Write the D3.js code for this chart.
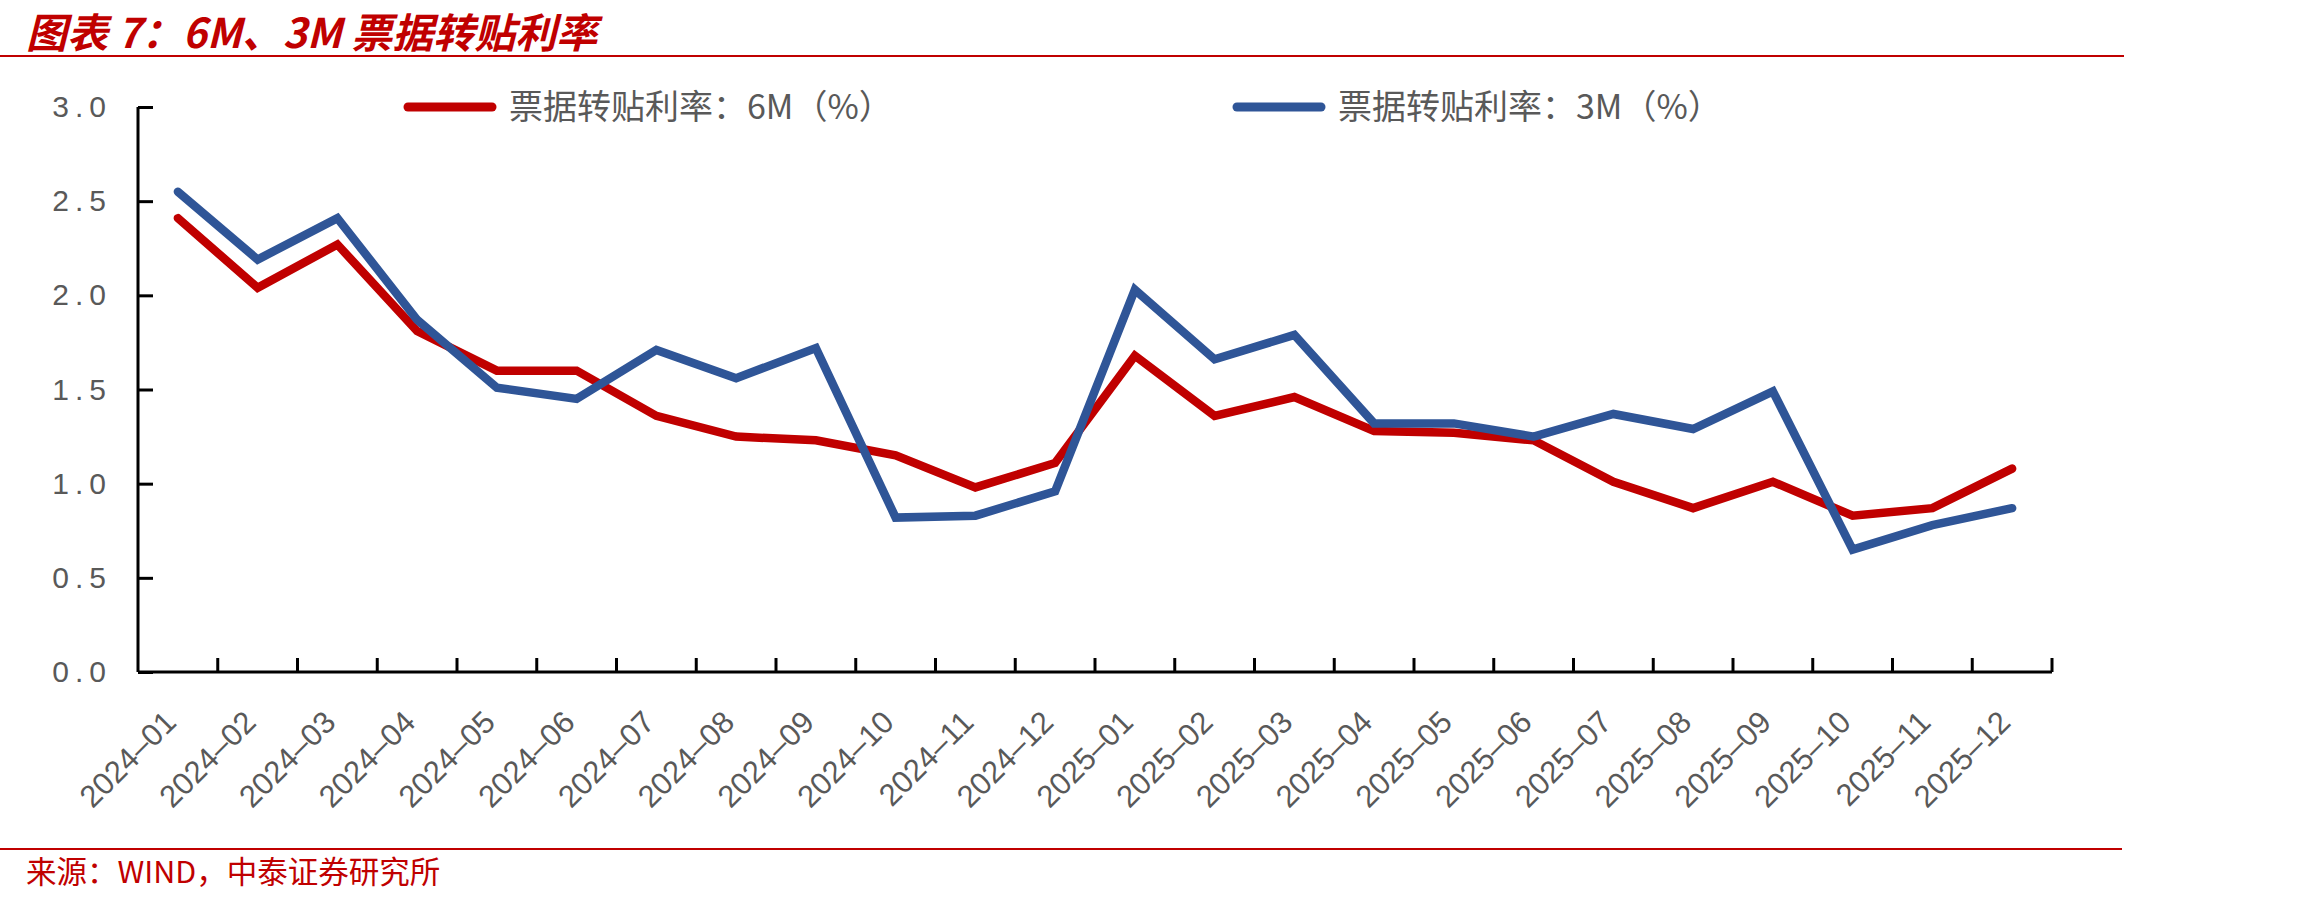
<!DOCTYPE html>
<html>
<head>
<meta charset="utf-8">
<script src="https://cdn.jsdelivr.net/npm/d3@7"></script>
<style>
  body { margin: 0; background: #fff; }
  svg { display: block; }
</style>
</head>
<body>
<div class="chart"></div>
<script>
// months on the x axis
const months = ["2024-01","2024-02","2024-03","2024-04","2024-05","2024-06","2024-07","2024-08","2024-09","2024-10","2024-11","2024-12",
                "2025-01","2025-02","2025-03","2025-04","2025-05","2025-06","2025-07","2025-08","2025-09","2025-10","2025-11","2025-12"];
// 票据转贴利率 6M (%)
const rate6M = [2.41,2.04,2.27,1.81,1.60,1.60,1.36,1.25,1.23,1.15,0.98,1.11,
                1.68,1.36,1.46,1.28,1.27,1.23,1.01,0.87,1.01,0.83,0.87,1.08];
// 票据转贴利率 3M (%)
const rate3M = [2.55,2.19,2.41,1.87,1.51,1.45,1.71,1.56,1.72,0.82,0.83,0.96,
                2.03,1.66,1.79,1.32,1.32,1.25,1.37,1.29,1.49,0.65,0.78,0.87];
const yTicks = [0, 0.5, 1.0, 1.5, 2.0, 2.5, 3.0];
const seriesNames = ["票据转贴利率：6M（%）", "票据转贴利率：3M（%）"];
const titleText = "图表 7：6M、3M 票据转贴利率";
const sourceText = "来源：WIND，中泰证券研究所";

const W = 2302, H = 905;
const margin = {top: 107, right: 250, bottom: 233, left: 138};
const width = W - margin.left - margin.right,
      height = H - margin.top - margin.bottom;

const red = "#C00000", blue = "#2F5597", gray = "#595959";
const cjk = "'Noto Sans CJK SC', sans-serif";
const latin = "'Liberation Sans', Arial, sans-serif";

const svg = d3.select(".chart").append("svg")
    .attr("width", W)
    .attr("height", H);

// title + rules
svg.append("text")
    .attr("x", 26).attr("y", 48)
    .style("font-family", cjk)
    .style("font-size", "41px")
    .style("font-weight", "bold")
    .style("font-style", "italic")
    .style("fill", red)
    .text(titleText);

svg.append("line")
    .attr("x1", 0).attr("x2", 2124).attr("y1", 56).attr("y2", 56)
    .style("stroke", red).style("stroke-width", 2);

svg.append("line")
    .attr("x1", 0).attr("x2", 2122).attr("y1", 849).attr("y2", 849)
    .style("stroke", red).style("stroke-width", 2);

svg.append("text")
    .attr("x", 26).attr("y", 883)
    .style("font-family", cjk)
    .style("font-size", "30.5px")
    .style("fill", red)
    .text(sourceText);

const g = svg.append("g")
    .attr("transform", "translate(" + margin.left + "," + margin.top + ")");

const xScale = d3.scaleBand()
    .domain(months)
    .range([0, width]);

const yScale = d3.scaleLinear()
    .domain([0, 3])
    .range([height, 0]);

// y axis, ticks pointing inward
const yAxis = d3.axisLeft(yScale)
    .tickValues(yTicks)
    .tickSize(-15)
    .tickPadding(26)
    .tickFormat(d3.format(".1f"));

g.append("g")
    .attr("class", "axis y-axis")
    .call(yAxis)
    .call(a => a.select(".domain").attr("d", "M0,0V" + height))
    .call(a => a.selectAll("line, path").style("stroke", "#000").style("stroke-width", 3))
    .call(a => a.selectAll("text")
        .style("font-family", latin)
        .style("font-size", "30px")
        .style("letter-spacing", "6px")
        .style("fill", gray));

// x axis, ticks on band boundaries
const xAxis = d3.axisBottom(xScale)
    .tickSize(0)
    .tickPadding(0)
    .tickFormat(d => d.replace("-", "–"));

const xg = g.append("g")
    .attr("class", "axis x-axis")
    .attr("transform", "translate(0," + height + ")")
    .call(xAxis);

xg.select(".domain").attr("d", "M0,0H" + width)
    .style("stroke", "#000").style("stroke-width", 3);

xg.selectAll(".tick").append("line")
    .attr("x1", xScale.bandwidth() / 2).attr("x2", xScale.bandwidth() / 2)
    .attr("y1", 0).attr("y2", -14)
    .style("stroke", "#000").style("stroke-width", 3);

xg.selectAll(".tick text")
    .attr("text-anchor", "end")
    .attr("dy", 0)
    .attr("transform", "translate(0,52) rotate(-45)")
    .style("font-family", latin)
    .style("font-size", "31px")
    .style("fill", gray);

// lines
const line = d3.line()
    .x((d, i) => xScale(months[i]) + xScale.bandwidth() / 2)
    .y(d => yScale(d));

const series = [
  {name: seriesNames[0], values: rate6M, color: red},
  {name: seriesNames[1], values: rate3M, color: blue}
];

g.selectAll(".series")
    .data(series)
    .enter()
    .append("path")
      .attr("class", "series")
      .attr("d", d => line(d.values))
      .style("fill", "none")
      .style("stroke", d => d.color)
      .style("stroke-width", 8.5)
      .style("stroke-linecap", "round")
      .style("stroke-linejoin", "miter")
      .style("stroke-miterlimit", 2);

// legend
const legendX = [408, 1237];
const legend = svg.selectAll(".legend")
    .data(series)
    .enter()
    .append("g")
      .attr("class", "legend")
      .attr("transform", (d, i) => "translate(" + legendX[i] + ",107)");

legend.append("line")
    .attr("x1", 0).attr("x2", 84)
    .attr("y1", 0).attr("y2", 0)
    .style("stroke", d => d.color)
    .style("stroke-width", 9)
    .style("stroke-linecap", "round");

legend.append("text")
    .attr("x", 101).attr("y", 12)
    .style("font-family", cjk)
    .style("font-size", "34px")
    .style("fill", gray)
    .text(d => d.name);
</script>
</body>
</html>
